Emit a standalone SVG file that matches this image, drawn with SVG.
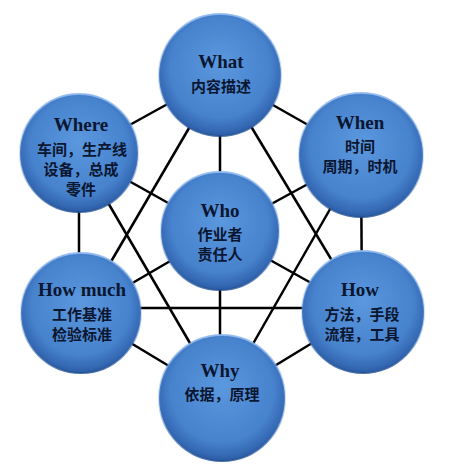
<svg xmlns="http://www.w3.org/2000/svg" width="450" height="468" viewBox="0 0 450 468">
<defs>
<radialGradient id="ball" cx="50%" cy="45%" r="55%" fx="50%" fy="40%">
<stop offset="0" stop-color="#5b98de"/>
<stop offset="0.75" stop-color="#4782cd"/>
<stop offset="0.93" stop-color="#3569b4"/>
<stop offset="1" stop-color="#2a5ba3"/>
</radialGradient>
<linearGradient id="rim" x1="0" y1="0" x2="0" y2="1">
<stop offset="0" stop-color="#8fbaf0" stop-opacity="0.9"/>
<stop offset="0.5" stop-color="#6a9ee0" stop-opacity="0.3"/>
<stop offset="1" stop-color="#1f4d92" stop-opacity="0.8"/>
</linearGradient>
<style>
.ln{stroke:#000;stroke-width:2.5;fill:none}
.c{fill:url(#ball);stroke:url(#rim);stroke-width:2}
.en{font-family:"Liberation Serif","DejaVu Serif",serif;font-weight:bold;font-size:19px;fill:#0b1630;text-anchor:middle}
.zh{font-family:"Noto Sans CJK SC","Noto Sans CJK TC",sans-serif;font-weight:bold;font-size:15px;fill:#0b1630;text-anchor:middle}
</style>
</defs>
<rect width="450" height="468" fill="#fff"/>
<g id="connectors">
<line class="ln" x1="220" y1="75" x2="79" y2="153"/>
<line class="ln" x1="220" y1="75" x2="361" y2="155"/>
<line class="ln" x1="220" y1="75" x2="220" y2="232"/>
<line class="ln" x1="220" y1="75" x2="81" y2="313"/>
<line class="ln" x1="220" y1="75" x2="363" y2="312"/>
<line class="ln" x1="79" y1="153" x2="79" y2="313"/>
<line class="ln" x1="361" y1="155" x2="362" y2="312"/>
<line class="ln" x1="79" y1="153" x2="220" y2="232"/>
<line class="ln" x1="361" y1="155" x2="220" y2="232"/>
<line class="ln" x1="79" y1="153" x2="222" y2="398"/>
<line class="ln" x1="361" y1="155" x2="222" y2="398"/>
<line class="ln" x1="81" y1="313" x2="220" y2="232"/>
<line class="ln" x1="363" y1="312" x2="220" y2="232"/>
<line class="ln" x1="81" y1="308" x2="363" y2="308"/>
<line class="ln" x1="220" y1="232" x2="220" y2="398"/>
<line class="ln" x1="81" y1="313" x2="222" y2="398"/>
<line class="ln" x1="363" y1="312" x2="222" y2="398"/>
</g>
<g id="what">
<circle class="c" cx="220" cy="75" r="61"/>
<text class="en" x="221" y="68">What</text>
<text class="zh" x="221" y="92">内容描述</text>
</g>
<g id="where">
<circle class="c" cx="79" cy="153" r="59"/>
<text class="en" x="81" y="131">Where</text>
<text class="zh" x="82" y="155">车间，生产线</text>
<text class="zh" x="81" y="175">设备，总成</text>
<text class="zh" x="81" y="195">零件</text>
</g>
<g id="when">
<circle class="c" cx="361" cy="155" r="62"/>
<text class="en" x="360" y="129">When</text>
<text class="zh" x="360" y="152">时间</text>
<text class="zh" x="360" y="172">周期，时机</text>
</g>
<g id="who">
<circle class="c" cx="220" cy="231" r="59"/>
<text class="en" x="220" y="217">Who</text>
<text class="zh" x="220" y="240">作业者</text>
<text class="zh" x="220" y="260">责任人</text>
</g>
<g id="howmuch">
<circle class="c" cx="81" cy="313" r="60"/>
<text class="en" x="82" y="296">How much</text>
<text class="zh" x="82" y="320">工作基准</text>
<text class="zh" x="82" y="340">检验标准</text>
</g>
<g id="how">
<circle class="c" cx="363" cy="312" r="61"/>
<text class="en" x="360" y="296">How</text>
<text class="zh" x="362" y="320">方法，手段</text>
<text class="zh" x="362" y="340">流程，工具</text>
</g>
<g id="why">
<circle class="c" cx="222" cy="398" r="63"/>
<text class="en" x="220" y="377">Why</text>
<text class="zh" x="222" y="400">依据，原理</text>
</g>
</svg>
